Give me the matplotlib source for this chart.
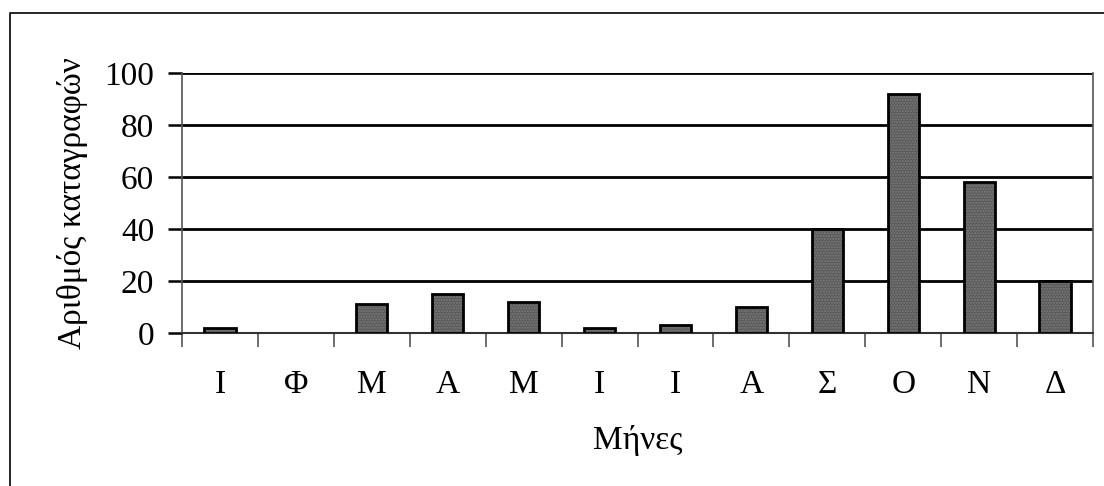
import matplotlib
matplotlib.use("Agg")
import matplotlib.pyplot as plt
from matplotlib.lines import Line2D
import numpy as np

months = ["Ι", "Φ", "Μ", "Α", "Μ", "Ι", "Ι", "Α", "Σ", "Ο", "Ν", "Δ"]
counts = [2, 0, 11, 15, 12, 2, 3, 10, 40, 92, 58, 20]
yticks = [0, 20, 40, 60, 80, 100]
xlabel = "Μήνες"
ylabel = "Αριθμός καταγραφών"

plt.rcParams['font.family'] = ['Liberation Serif', 'DejaVu Serif']
plt.rcParams['hatch.linewidth'] = 1.0

W, H = 1104, 486
fig = plt.figure(figsize=(W / 100, H / 100), dpi=100)
ax = fig.add_axes([182 / W, 1 - 333 / H, (1093 - 182) / W, (333 - 73) / H])

x = np.arange(len(months))
lw = [2.0 if c > 0 else 0 for c in counts]
ax.bar(x, counts, width=0.41, color="#5a5a5a", edgecolor="#7c7c7c", hatch="......",
       linewidth=0, zorder=3)
ax.bar(x, counts, width=0.41, fill=False, edgecolor="black", linewidth=lw, zorder=4)

ax.set_xlim(-0.5, len(months) - 0.5)
ax.set_ylim(0, 100)
ax.set_yticks(yticks)
ax.set_yticklabels([str(v) for v in yticks], fontsize=24)
for v in yticks[1:]:
    ax.axhline(v, color="black", linewidth=2.0, zorder=1)

ax.set_xticks(np.arange(len(months) + 1) - 0.5)
ax.set_xticklabels([])
ax.set_xticks(x, minor=True)
ax.set_xticklabels(months, minor=True, fontsize=24)
ax.tick_params(axis="x", which="major", direction="out", length=10, width=1.2, color="#555555")
ax.tick_params(axis="x", which="minor", length=0, pad=26)
ax.tick_params(axis="y", direction="out", length=10, width=1.8, color="black", pad=10)

for s in ["left", "right"]:
    ax.spines[s].set_color("#555555")
    ax.spines[s].set_linewidth(1.2)
ax.spines["top"].set_visible(False)
ax.spines["bottom"].set_color("#333333")
ax.spines["bottom"].set_linewidth(1.5)

ax.set_xlabel(xlabel, fontsize=24, labelpad=18)
ax.set_ylabel(ylabel, fontsize=24, labelpad=12)

# outer chart frame
fig.add_artist(Line2D([10 / W, 10 / W, 1.0], [0.0, 1 - 13 / H, 1 - 13 / H],
                      transform=fig.transFigure, color="black", linewidth=1.2))

fig.savefig("out.png", dpi=100)
